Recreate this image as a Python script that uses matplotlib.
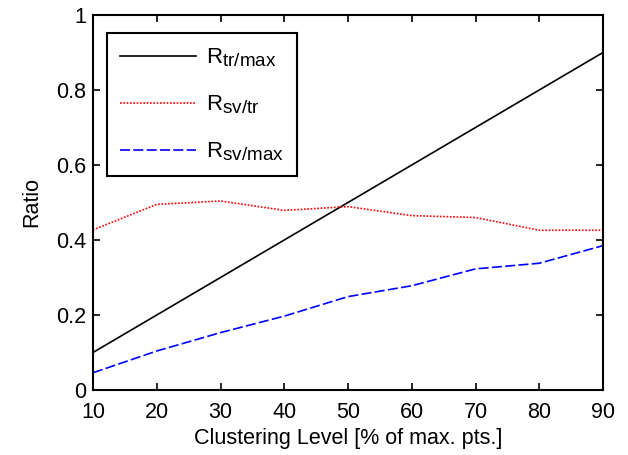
import matplotlib
matplotlib.use("Agg")
import matplotlib.pyplot as plt
import matplotlib._mathtext as mathtext_mod

plt.rcParams['font.family'] = ['Liberation Sans', 'DejaVu Sans']
plt.rcParams['mathtext.fontset'] = 'custom'
plt.rcParams['mathtext.rm'] = 'Liberation Sans'
# subscripts in the original are only slightly smaller than the main letter
mathtext_mod.SHRINK_FACTOR = 0.85

levels = [10, 20, 30, 40, 50, 60, 70, 80, 90]
r_tr_max = [0.1, 0.2, 0.3, 0.4, 0.5, 0.6, 0.7, 0.8, 0.9]
r_sv_tr = [0.427, 0.495, 0.504, 0.479, 0.489, 0.465, 0.46, 0.426, 0.426]
r_sv_max = [0.046, 0.104, 0.153, 0.197, 0.249, 0.278, 0.323, 0.338, 0.385]

fig = plt.figure(figsize=(6.28, 4.55), dpi=100)
ax = fig.add_axes([93/628, 1 - 390/455, 510/628, 375/455])

ax.plot(levels, r_tr_max, color="black", lw=1.2, label=r"$\mathregular{R_{tr/max}}$")
ax.plot(levels, r_sv_tr, color="red", lw=1.2, ls=(0, (1, 1)), label=r"$\mathregular{R_{sv/tr}}$")
ax.plot(levels, r_sv_max, color="blue", lw=1.2, ls=(0, (6, 2)), label=r"$\mathregular{R_{sv/max}}$")

ax.set_xlim(10, 90)
ax.set_ylim(0, 1)
ax.set_xticks(levels)
ax.set_yticks([0, 0.2, 0.4, 0.6, 0.8, 1])
ax.set_yticklabels(["0", "0.2", "0.4", "0.6", "0.8", "1"])
ax.tick_params(direction="in", top=True, right=True, labelsize=15.5, length=5, width=1.2)
ax.tick_params(axis="x", pad=9)
ax.tick_params(axis="y", pad=5)
for s in ax.spines.values():
    s.set_linewidth(1.5)
ax.set_xlabel("Clustering Level [% of max. pts.]", fontsize=15.5, labelpad=3)
ax.set_ylabel("Ratio", fontsize=15.5, labelpad=10)

leg = ax.legend(loc="upper left", bbox_to_anchor=(14/510, 1 - 18/375), fontsize=16, fancybox=False,
                framealpha=1, edgecolor="black", handlelength=3.4, borderpad=0.6,
                labelspacing=1.1, handletextpad=0.45, borderaxespad=0)
leg.get_frame().set_linewidth(1.5)

fig.savefig("out.png", dpi=100)
